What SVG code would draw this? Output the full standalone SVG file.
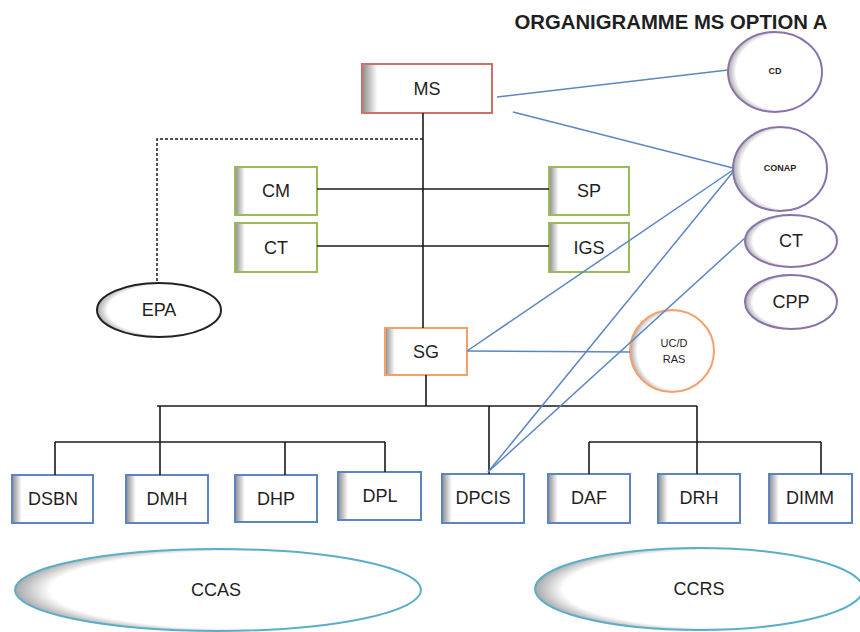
<svg xmlns="http://www.w3.org/2000/svg" width="860" height="632" viewBox="0 0 860 632">
  <defs>
    <!-- inner shading along the left edge of boxes -->
    <linearGradient id="boxShade" x1="0" y1="0" x2="1" y2="0">
      <stop offset="0" stop-color="#8a8a8a"/>
      <stop offset="0.12" stop-color="#ffffff"/>
      <stop offset="1" stop-color="#ffffff"/>
    </linearGradient>
    <!-- inner shading for ellipses, darker on the left -->
    <radialGradient id="ellShade" cx="0.55" cy="0.5" r="0.55" fx="0.62" fy="0.5">
      <stop offset="0.86" stop-color="#ffffff"/>
      <stop offset="1" stop-color="#a8a8a8"/>
    </radialGradient>
    <style>
      .box { fill: url(#boxShade); stroke-width: 2; }
      .ell { fill: url(#ellShade); stroke-width: 2; }
      .red { stroke: #cf6f6c; }
      .green { stroke: #9bbb59; }
      .orange { stroke: #f5a06a; }
      .blue { stroke: #5b84c4; }
      .purple { stroke: #8a72ad; }
      .black { stroke: #222222; }
      .teal { stroke: #5aaec8; }
      .lbl { font-family: "Liberation Sans", Arial, sans-serif; fill: #1f1f1f; text-anchor: middle; }
      .big { font-size: 18px; }
      .small { font-size: 9px; font-weight: bold; }
      .mid { font-size: 11px; }
      .tree { stroke: #1a1a1a; stroke-width: 1.6; fill: none; }
      .dash { stroke: #1a1a1a; stroke-width: 1.5; stroke-dasharray: 3 2; fill: none; }
      .link { stroke: #5b86c4; stroke-width: 1.5; fill: none; }
    </style>
  </defs>

  <rect width="860" height="632" fill="#ffffff"/>

  <text x="671" y="29" font-family="Liberation Sans, Arial, sans-serif" font-size="20" font-weight="bold" fill="#1f1f1f" text-anchor="middle" textLength="313" lengthAdjust="spacingAndGlyphs">ORGANIGRAMME MS OPTION A</text>

  <!-- top -->
  <g id="ms">
    <rect class="box red" x="362" y="64" width="130" height="49"/>
    <text class="lbl big" x="427" y="95">MS</text>
  </g>
  <g id="cm">
    <rect class="box green" x="235" y="167" width="82" height="48"/>
    <text class="lbl big" x="276" y="197">CM</text>
  </g>
  <g id="ct-box">
    <rect class="box green" x="235" y="223" width="82" height="49"/>
    <text class="lbl big" x="276" y="254">CT</text>
  </g>
  <g id="sp">
    <rect class="box green" x="549" y="167" width="80" height="48"/>
    <text class="lbl big" x="589" y="197">SP</text>
  </g>
  <g id="igs">
    <rect class="box green" x="549" y="223" width="80" height="49"/>
    <text class="lbl big" x="589" y="254">IGS</text>
  </g>
  <g id="epa">
    <ellipse class="ell black" cx="159" cy="310" rx="62" ry="27"/>
    <text class="lbl big" x="159" y="316">EPA</text>
  </g>
  <g id="sg">
    <rect class="box orange" x="385" y="328" width="82" height="47"/>
    <text class="lbl big" x="426" y="358">SG</text>
  </g>
  <g id="ucdras">
    <ellipse class="ell orange" cx="672" cy="351" rx="42" ry="41"/>
    <text class="lbl mid" x="674" y="347">UC/D</text>
    <text class="lbl mid" x="674" y="363">RAS</text>
  </g>

  <!-- councils -->
  <g id="cd">
    <ellipse class="ell purple" cx="775" cy="72" rx="47" ry="40"/>
    <text class="lbl small" x="775" y="74">CD</text>
  </g>
  <g id="conap">
    <ellipse class="ell purple" cx="780" cy="169" rx="47" ry="42"/>
    <text class="lbl small" x="780" y="171">CONAP</text>
  </g>
  <g id="ct-council">
    <ellipse class="ell purple" cx="791" cy="241" rx="46" ry="26"/>
    <text class="lbl big" x="791" y="247">CT</text>
  </g>
  <g id="cpp">
    <ellipse class="ell purple" cx="791" cy="302" rx="46" ry="27"/>
    <text class="lbl big" x="791" y="308">CPP</text>
  </g>

  <!-- directorates -->
  <g id="dsbn">
    <rect class="box blue" x="12" y="475" width="81" height="48"/>
    <text class="lbl big" x="53" y="505">DSBN</text>
  </g>
  <g id="dmh">
    <rect class="box blue" x="126" y="475" width="82" height="48"/>
    <text class="lbl big" x="167" y="505">DMH</text>
  </g>
  <g id="dhp">
    <rect class="box blue" x="235" y="475" width="82" height="47"/>
    <text class="lbl big" x="276" y="505">DHP</text>
  </g>
  <g id="dpl">
    <rect class="box blue" x="338" y="472" width="83" height="48"/>
    <text class="lbl big" x="380" y="502">DPL</text>
  </g>
  <g id="dpcis">
    <rect class="box blue" x="442" y="474" width="82" height="49"/>
    <text class="lbl big" x="483" y="504">DPCIS</text>
  </g>
  <g id="daf">
    <rect class="box blue" x="548" y="474" width="82" height="49"/>
    <text class="lbl big" x="589" y="504">DAF</text>
  </g>
  <g id="drh">
    <rect class="box blue" x="658" y="474" width="82" height="49"/>
    <text class="lbl big" x="699" y="504">DRH</text>
  </g>
  <g id="dimm">
    <rect class="box blue" x="769" y="474" width="83" height="49"/>
    <text class="lbl big" x="810" y="504">DIMM</text>
  </g>

  <!-- regional bodies -->
  <g id="ccas">
    <ellipse class="ell teal" cx="218" cy="590" rx="203" ry="41"/>
    <text class="lbl big" x="216" y="596">CCAS</text>
  </g>
  <g id="ccrs">
    <ellipse class="ell teal" cx="699" cy="589" rx="164" ry="41"/>
    <text class="lbl big" x="699" y="595">CCRS</text>
  </g>

  <!-- connectors, drawn over the nodes -->
  <g id="connectors">
    <!-- hierarchy -->
    <line class="tree" x1="423" y1="113" x2="423" y2="328"/>
    <line class="tree" x1="317" y1="189" x2="549" y2="189"/>
    <line class="tree" x1="317" y1="246" x2="549" y2="246"/>
    <line class="tree" x1="426" y1="375" x2="426" y2="406"/>
    <line class="tree" x1="157" y1="406" x2="697" y2="406"/>
    <line class="tree" x1="160" y1="406" x2="160" y2="475"/>
    <line class="tree" x1="55" y1="442" x2="385" y2="442"/>
    <line class="tree" x1="55" y1="442" x2="55" y2="475"/>
    <line class="tree" x1="285" y1="442" x2="285" y2="475"/>
    <line class="tree" x1="385" y1="442" x2="385" y2="472"/>
    <line class="tree" x1="489" y1="406" x2="489" y2="474"/>
    <line class="tree" x1="697" y1="406" x2="697" y2="474"/>
    <line class="tree" x1="589" y1="442" x2="821" y2="442"/>
    <line class="tree" x1="589" y1="442" x2="589" y2="474"/>
    <line class="tree" x1="821" y1="442" x2="821" y2="474"/>
    <!-- dotted link to EPA -->
    <polyline class="dash" points="423,139 157,139 157,283"/>
    <!-- advisory links -->
    <line class="link" x1="497" y1="97" x2="728" y2="70"/>
    <line class="link" x1="513" y1="112" x2="733" y2="168"/>
    <line class="link" x1="467" y1="351" x2="733" y2="170"/>
    <line class="link" x1="467" y1="351" x2="630" y2="352"/>
    <line class="link" x1="488" y1="472" x2="733" y2="172"/>
    <line class="link" x1="488" y1="472" x2="745" y2="238"/>
  </g>
</svg>
